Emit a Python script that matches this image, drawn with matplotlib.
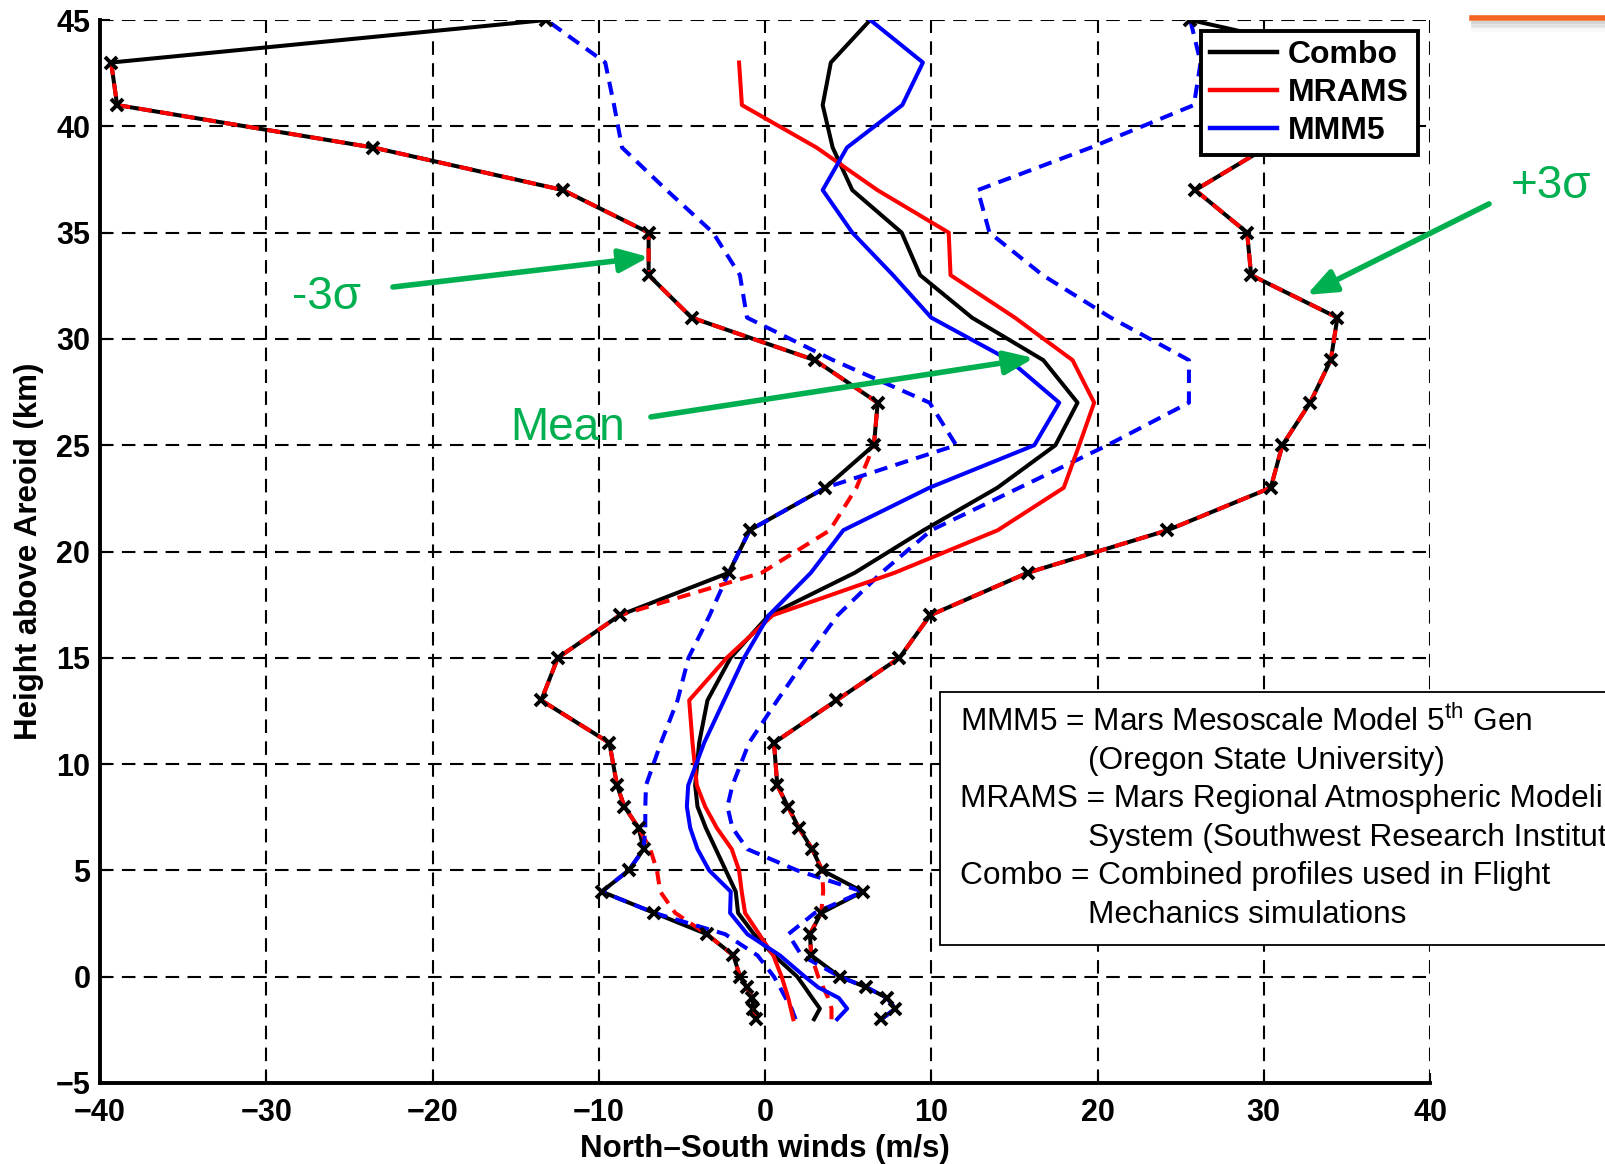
import numpy as np
import matplotlib
matplotlib.use("Agg")
import matplotlib.pyplot as plt
from matplotlib.patches import Rectangle
from matplotlib.lines import Line2D

plt.rcParams['font.family'] = ['Liberation Sans', 'DejaVu Sans']
plt.rcParams['mathtext.fontset'] = 'custom'
plt.rcParams['mathtext.rm'] = 'Liberation Sans'

# Height levels (km above areoid), bottom to top
height_km = [-2, -1.5, -1, -0.5, 0, 1, 2, 3, 4, 5, 6, 7, 8, 9, 11, 13, 15, 17, 19,
             21, 23, 25, 27, 29, 31, 33, 35, 37, 39, 41, 43, 45]

# Mean north-south wind profiles (m/s)
combo_mean = [2.95, 3.3, 2.84, 2.4, 1.94, 0.54, -0.66, -1.62, -1.76, -2.36, -2.96, -3.56,
              -4.06, -4.2, -3.96, -3.46, -2.07, 0.23, 5.4, 9.54, 13.98, 17.47, 18.8,
              16.74, 12.45, 9.33, 8.22, 5.25, 4.07, 3.47, 3.96, 6.33]
mrams_mean = [1.7, 1.55, 1.4, 1.2, 1.0, 0.5, -0.35, -1.2, -1.4, -1.56, -2.0, -2.9,
              -3.6, -4.1, -4.36, -4.56, -2.3, 0.46, 7.8, 14.0, 17.97, 18.9, 19.8,
              18.5, 15.03, 11.16, 11.05, 6.76, 3.1, -1.39, -1.56, np.nan]
mmm5_mean = [4.34, 4.94, 4.44, 3.2, 2.4, 0.9, -1.06, -2.1, -2.06, -3.36, -4.06, -4.5,
             -4.7, -4.62, -3.66, -2.46, -1.26, 0.23, 2.76, 4.71, 9.89, 16.2, 17.7,
             14.7, 10.0, 7.7, 5.25, 3.47, 4.93, 8.26, 9.5, 6.33]

# -3 sigma profiles
combo_lo = [-0.56, -0.7, -0.76, -1.1, -1.5, -1.9, -3.5, -6.66, -9.82, -8.2, -7.3, -7.6,
            -8.46, -8.9, -9.36, -13.46, -12.46, -8.74, -2.18, -0.92, 3.63, 6.55, 6.78,
            3.0, -4.41, -7.0, -7.0, -12.15, -23.56, -38.97, -39.33, -13.15]
mrams_lo = [-0.56, -0.7, -0.76, -1.1, -1.5, -1.9, -3.5, -5.4, -6.3, -6.5, -6.9, -7.6,
            -8.46, -8.9, -9.36, -13.46, -12.46, -8.74, -0.2, 3.9, 5.5, 6.55, 6.78,
            3.0, -4.41, -7.0, -7.0, -12.15, -23.56, -38.97, -39.33, np.nan]
mmm5_lo = [1.84, 1.6, 1.24, 0.9, 0.54, -0.45, -2.4, -6.66, -9.82, -8.2, -7.3, -7.2,
           -7.2, -7.16, -6.26, -5.26, -4.6, -3.33, -2.18, -0.92, 3.63, 11.5, 9.9,
           4.1, -1.08, -1.51, -3.13, -5.92, -8.6, -9.08, -9.61, -13.15]

# +3 sigma profiles
combo_hi = [7.0, 7.84, 7.34, 6.1, 4.5, 2.78, 2.7, 3.38, 5.88, 3.44, 2.84, 2.04,
            1.38, 0.74, 0.54, 4.3, 8.09, 9.93, 15.8, 24.21, 30.42, 31.12, 32.79,
            34.03, 34.43, 29.24, 29.0, 25.88, 30.15, 33.0, 37.0, 25.58]
mrams_hi = [4.0, 4.0, 3.8, 3.5, 3.2, 2.78, 2.7, 3.38, 3.5, 3.44, 2.84, 2.04,
            1.38, 0.74, 0.54, 4.3, 8.09, 9.93, 15.8, 24.21, 30.42, 31.12, 32.79,
            34.03, 34.43, 29.24, 29.0, 25.88, 30.15, 33.0, 37.0, np.nan]
mmm5_hi = [7.0, 7.84, 7.34, 6.1, 4.5, 2.2, 1.4, 3.0, 5.88, 1.94, -1.06, -1.96,
           -2.26, -1.96, -0.96, 0.74, 2.5, 4.37, 7.0, 10.0, 15.3, 20.6, 25.5,
           25.5, 20.8, 16.7, 13.5, 12.8, 19.6, 25.8, 26.2, 25.58]

x_ticks = [-40, -30, -20, -10, 0, 10, 20, 30, 40]
y_ticks = [-5, 0, 5, 10, 15, 20, 25, 30, 35, 40, 45]
legend_labels = ['Combo', 'MRAMS', 'MMM5']
note_lines = [
    ("MMM5 = Mars Mesoscale Model 5$^{\\rm th}$ Gen", False),
    ("(Oregon State University)", True),
    ("MRAMS = Mars Regional Atmospheric Modeling", False),
    ("System (Southwest Research Institute)", True),
    ("Combo = Combined profiles used in Flight", False),
    ("Mechanics simulations", True),
]

GREEN = '#00B050'
W, H = 1605, 1164
fig = plt.figure(figsize=(W / 100, H / 100), dpi=100)
ax = fig.add_axes([100 / W, 1 - 1083 / H, 1330 / W, 1063 / H])

LW = 2.9
dash = (0, (3.3, 2.1))

# Combined envelope drawn first, the model envelopes on top
ax.plot(combo_lo, height_km, color='black', lw=LW, zorder=3)
ax.plot(combo_hi, height_km, color='black', lw=LW, zorder=3)
ax.plot(mrams_lo, height_km, color='red', lw=LW, ls=dash, zorder=4)
ax.plot(mrams_hi, height_km, color='red', lw=LW, ls=dash, zorder=4)
ax.plot(mmm5_lo, height_km, color='blue', lw=LW, ls=dash, zorder=4)
ax.plot(mmm5_hi, height_km, color='blue', lw=LW, ls=dash, zorder=4)
ax.plot(combo_lo, height_km, ls='none', marker='x', ms=8, mew=2.8, color='black', zorder=5)
ax.plot(combo_hi, height_km, ls='none', marker='x', ms=8, mew=2.8, color='black', zorder=5)

# Mean profiles
h_combo, = ax.plot(combo_mean, height_km, color='black', lw=LW, zorder=6)
h_mrams, = ax.plot(mrams_mean, height_km, color='red', lw=LW, zorder=6)
h_mmm5, = ax.plot(mmm5_mean, height_km, color='blue', lw=LW, zorder=6)

ax.set_xlim(-40, 40)
ax.set_ylim(-5, 45)
ax.set_xticks(x_ticks)
ax.set_yticks(y_ticks)
ax.grid(True, color='black', lw=1.5, ls=(0, (6.5, 4.0)))
ax.set_axisbelow(True)
for s in ('top', 'right'):
    ax.spines[s].set_visible(False)
for s in ('left', 'bottom'):
    ax.spines[s].set_linewidth(2.8)
ax.tick_params(direction='in', length=7, width=1.5, labelsize=22)
ax.tick_params(axis='x', pad=11)
ax.tick_params(axis='y', pad=7)
for lab in ax.get_xticklabels() + ax.get_yticklabels():
    lab.set_fontweight('bold')

ax.set_xlabel('North\u2013South winds (m/s)', fontsize=22.5, fontweight='bold', labelpad=4)
ax.set_ylabel('Height above Areoid (km)', fontsize=22.5, fontweight='bold', labelpad=8)

leg = ax.legend([h_combo, h_mrams, h_mmm5], legend_labels,
                loc='upper right', bbox_to_anchor=(1418 / W, 1 - 31 / H),
                bbox_transform=fig.transFigure, fancybox=False, framealpha=1,
                edgecolor='black', prop={'weight': 'bold', 'size': 23},
                handlelength=2.1, handletextpad=0.35, labelspacing=0.25,
                borderpad=0.28, borderaxespad=0)
leg.get_frame().set_linewidth(2.8)
leg.set_zorder(10)
for ln in leg.get_lines():
    ln.set_linewidth(3.2)

# Annotation arrows
arrow_kw = dict(arrowstyle='-|>,head_length=0.8,head_width=0.32', color=GREEN, lw=4,
                shrinkA=0, shrinkB=0, mutation_scale=22)
ax.annotate('', xy=(-6.98, 33.85), xytext=(-22.38, 32.44), arrowprops=arrow_kw, zorder=8)
ax.annotate('', xy=(16.18, 29.1), xytext=(-6.86, 26.33), arrowprops=arrow_kw, zorder=8)
ax.annotate('', xy=(32.58, 32.07), xytext=(43.55, 36.35), arrowprops=arrow_kw,
            annotation_clip=False, zorder=8)
ax.text(-26.35, 31.97, '-3\u03c3', color=GREEN, fontsize=33, ha='center', va='center', zorder=8)
ax.text(-11.9, 25.8, 'Mean', color=GREEN, fontsize=33, ha='center', va='center', zorder=8)
ax.text(47.28, 37.2, '+3\u03c3', color=GREEN, fontsize=33, ha='center', va='center',
        clip_on=False, zorder=8)

# Model description box (runs off the right edge of the slide)
box = Rectangle((939.5 / W, 1 - 945 / H), (1700 - 939.5) / W, (945 - 692) / H,
                transform=fig.transFigure, facecolor='white', edgecolor='black',
                lw=1.3, zorder=20)
fig.add_artist(box)
for i, (txt, indent) in enumerate(note_lines):
    x0 = (1088 if indent else 960) / W
    y0 = 1 - (722 + 38.6 * i) / H
    fig.text(x0, y0, txt, fontsize=22.8, ha='left', va='center', zorder=21)

# Slide accent bar in the top right corner
for k, a in enumerate([0.35, 0.22, 0.12, 0.05]):
    fig.add_artist(Line2D([1472 / W, 1], [1 - (22 + 2.5 * k) / H] * 2,
                          transform=fig.transFigure, color='gray', alpha=a, lw=2))
fig.add_artist(Line2D([1472 / W, 1], [1 - 18 / H] * 2, transform=fig.transFigure,
                      color='#F26522', lw=4))

fig.savefig('out.png', dpi=100)
